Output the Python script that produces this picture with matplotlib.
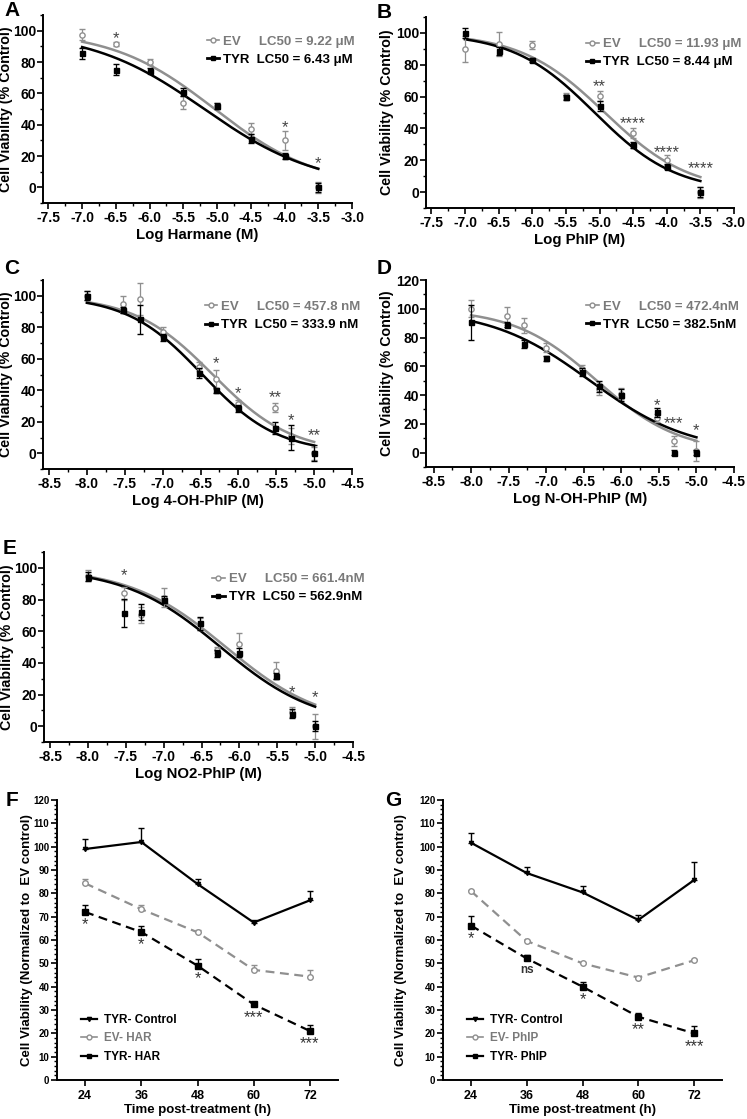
import numpy as np
import matplotlib
matplotlib.use('Agg')
import matplotlib.pyplot as plt
from matplotlib.lines import Line2D
from matplotlib.ticker import MultipleLocator

plt.rcParams['font.family'] = ['Liberation Sans', 'DejaVu Sans']
plt.rcParams['font.weight'] = 'bold'
plt.rcParams['axes.labelweight'] = 'bold'

W, H = 747, 1119
GRAY = '#8f8f8f'

# ---- dose-response data (log M) ----
harm_x = [-7.0, -6.5, -6.0, -5.5, -5.0, -4.5, -4.0, -3.5]
harm_ev = [97.5, 91.5, 80, 54, 52, 37.5, 30, 0]
harm_ev_err = [3.5, 1, 2, 4, 2, 3.5, 6, 3.5]
harm_tyr = [85.5, 75, 74.5, 61, 52, 31, 20, 0]
harm_tyr_err = [3.5, 3.5, 1.5, 2.5, 2, 3, 2, 3]
harm_stars = [(-6.5, 95, '*'), (-4.0, 38, '*'), (-3.5, 15, '*')]

phip_x = [-7.0, -6.5, -6.0, -5.5, -5.0, -4.5, -4.0, -3.5]
phip_ev = [90, 93, 92.5, 60.5, 60.5, 37, 20, 0]
phip_ev_err = [8, 7.5, 2.5, 2, 3, 3, 3, 3.5]
phip_tyr = [100, 88.5, 83, 59.5, 54, 29.5, 16, 0]
phip_tyr_err = [3, 2.5, 1.5, 1.5, 3, 2, 1.5, 3]
phip_stars = [(-5.0, 66, '**'), (-4.5, 43, '****'), (-4.0, 25, '****'), (-3.5, 15, '****')]

nm_x = [-8.0, -7.52, -7.3, -7.0, -6.52, -6.3, -6.0, -5.52, -5.3, -5.0]

oh_ev = [100, 95, 98, 77, 55, 47, 31, 29, 11, 0]
oh_ev_err = [3, 5, 10, 3, 3, 6, 3, 3, 5, 4]
oh_tyr = [100, 91, 85, 73.5, 51, 40, 28.5, 16, 10, 0]
oh_tyr_err = [3, 2, 9, 2, 3, 1.5, 2, 4, 8, 5]
oh_stars = [(-6.3, 57, '*'), (-6.0, 38, '*'), (-5.52, 35, '**'), (-5.3, 21, '*'), (-5.0, 11, '**')]

noh_ev = [100, 95, 88.5, 73, 58, 44, 41, 24, 8, 1]
noh_ev_err = [6, 6, 5, 3, 3, 4, 4, 3, 3.5, 7]
noh_tyr = [90.5, 89, 75.5, 65.5, 56, 46, 40, 28, 0, 0]
noh_tyr_err = [12, 2, 3, 2, 3, 4, 4, 3, 2, 2]
noh_stars = [(-5.52, 33, '*'), (-5.3, 20, '***'), (-5.0, 15, '*')]

no2_ev = [95, 84, 70, 81, 64.5, 48, 52, 35, 9, 0]
no2_ev_err = [3.5, 4, 5, 6, 4, 2, 7, 5.5, 3, 8]
no2_tyr = [94.5, 71.5, 72, 80, 65, 46, 46.5, 31.5, 8, 0]
no2_tyr_err = [3, 9, 5, 2, 4, 2, 3, 2, 3, 3]
no2_stars = [(-7.52, 95, '*'), (-5.3, 21, '*'), (-5.0, 18, '*')]

# fitted curves: (log LC50, hill slope)
fit_harm = [(-5.035, 0.57), (-5.19, 0.515)]
fit_phip = [(-4.923, 0.69), (-5.074, 0.716)]
fit_oh = [(-6.339, 0.83), (-6.476, 0.87)]
fit_noh = [(-6.326, 0.79), (-6.417, 0.652)]
fit_no2 = [(-6.18, 0.68), (-6.25, 0.683)]

# ---- time course data ----
hours = [24, 36, 48, 60, 72]
f_ctrl = [99, 102, 84, 67.5, 77]
f_ctrl_err = [4.5, 5.8, 2, 1.2, 4]
f_ev = [84.3, 73.2, 63.3, 47.2, 44.3]
f_ev_err = [2, 1.8, 1, 2, 2.8]
f_tyr = [72, 63.4, 49, 32.4, 21]
f_tyr_err = [3, 2.4, 3, 1.2, 2.6]
f_stars = ['*', '*', '*', '***', '***']

g_ctrl = [101.7, 88.7, 80.4, 68.6, 85.7]
g_ctrl_err = [4, 2.8, 2.8, 2.1, 7.6]
g_ev = [81, 59.6, 50, 43.9, 51.3]
g_ev_err = [0.5, 0.5, 0.5, 0.5, 0.5]
g_tyr = [66.2, 52.1, 40, 27.1, 20]
g_tyr_err = [3.9, 1.5, 2.1, 1.5, 3.1]
g_stars = ['*', 'ns', '*', '**', '***']

fig = plt.figure(figsize=(W / 100, H / 100), dpi=100)


def px_axes(l, t, r, b):
    ax = fig.add_axes([l / W, 1 - b / H, (r - l) / W, (b - t) / H])
    ax._px = (l, t, r, b)
    return ax


def ylabel_at(ax, xpx):
    l, t, r, b = ax._px
    ax.yaxis.set_label_coords((xpx - l) / (r - l), 0.5)


def letter(ch, xpx, ypx):
    fig.text(xpx / W, 1 - ypx / H, ch, fontsize=15, fontweight='bold',
             ha='left', va='center')


def style(ax, lw=1.4):
    for s in ['top', 'right']:
        ax.spines[s].set_visible(False)
    for s in ['left', 'bottom']:
        ax.spines[s].set_linewidth(lw)
    ax.tick_params(which='major', length=4, width=1.2, direction='out')
    ax.tick_params(which='minor', length=2.5, width=1.0, direction='out')


def hill(x, logec, h):
    return 100.0 / (1 + 10 ** ((x - logec) * h))


def dose_panel(ax, x, ev, ev_err, tyr, tyr_err, fits, stars, xlim, ylim, ytop,
               xlabel, labels, ylab_x, leg_x):
    style(ax)
    xs = np.linspace(min(x), max(x), 200)
    ax.plot(xs, hill(xs, *fits[0]), color=GRAY, lw=1.8, zorder=2)
    ax.plot(xs, hill(xs, *fits[1]), color='black', lw=1.8, zorder=3)
    ax.errorbar(x, ev, yerr=ev_err, fmt='o', ms=3.8, mfc='white', mec=GRAY,
                mew=1, ecolor=GRAY, elinewidth=0.9, capsize=2, zorder=4)
    ax.errorbar(x, tyr, yerr=tyr_err, fmt='s', ms=3.6, mfc='black', mec='black',
                ecolor='black', elinewidth=0.9, capsize=2, zorder=5)
    for sx, sy, s in stars:
        ax.text(sx, sy, s, ha='center', va='center', fontsize=12,
                color='#444444', fontweight='normal')
    ax.set_xlim(*xlim)
    ax.set_ylim(*ylim)
    ax.xaxis.set_major_locator(MultipleLocator(0.5))
    ax.xaxis.set_minor_locator(MultipleLocator(0.25))
    ax.yaxis.set_minor_locator(MultipleLocator(10))
    ax.set_yticks(np.arange(0, ytop + 1, 20))
    ax.xaxis.set_major_formatter(plt.FuncFormatter(lambda v, p: f'{v:.1f}'))
    ax.tick_params(axis='x', labelsize=10, pad=2)
    ax.tick_params(axis='y', labelsize=10, pad=1)
    ax.set_xlabel(xlabel, fontsize=10.8, labelpad=2)
    ax.set_ylabel('Cell Viability (% Control)', fontsize=10.3)
    ylabel_at(ax, ylab_x)
    h1 = Line2D([], [], color=GRAY, lw=1.2, marker='o', ms=3.5, mfc='white', mec=GRAY)
    h2 = Line2D([], [], color='black', lw=2, marker='s', ms=3.5)
    leg = ax.legend([h1, h2], labels, loc='upper left', bbox_to_anchor=(leg_x, 0.89),
                    frameon=False, fontsize=9.5, handlelength=0.95,
                    handletextpad=0.3, labelspacing=0.45, borderaxespad=0,
                    borderpad=0)
    leg.get_texts()[0].set_color('#7a7a7a')


axA = px_axes(43, 15, 352, 203)
dose_panel(axA, harm_x, harm_ev, harm_ev_err, harm_tyr, harm_tyr_err, fit_harm,
           harm_stars, (-7.58, -3.0), (-10, 110), 100, 'Log Harmane (M)',
           ['EV     LC50 = 9.22 \u03bcM', 'TYR  LC50 = 6.43 \u03bcM'], 13.5, 0.53)

axB = px_axes(426, 17, 734, 208)
dose_panel(axB, phip_x, phip_ev, phip_ev_err, phip_tyr, phip_tyr_err, fit_phip,
           phip_stars, (-7.58, -3.0), (-10, 110), 100, 'Log PhIP (M)',
           ['EV     LC50 = 11.93 \u03bcM', 'TYR  LC50 = 8.44 \u03bcM'], 394, 0.52)

axC = px_axes(43, 280, 352, 469)
dose_panel(axC, nm_x, oh_ev, oh_ev_err, oh_tyr, oh_tyr_err, fit_oh,
           oh_stars, (-8.58, -4.5), (-10, 110), 100, 'Log 4-OH-PhIP (M)',
           ['EV     LC50 = 457.8 nM', 'TYR  LC50 = 333.9 nM'], 13.5, 0.524)

axD = px_axes(426, 280, 734, 467)
dose_panel(axD, nm_x, noh_ev, noh_ev_err, noh_tyr, noh_tyr_err, fit_noh,
           noh_stars, (-8.6, -4.5), (-10, 120), 120, 'Log N-OH-PhIP (M)',
           ['EV     LC50 = 472.4nM', 'TYR  LC50 = 382.5nM'], 394, 0.52)

axE = px_axes(44, 552, 353, 742)
dose_panel(axE, nm_x, no2_ev, no2_ev_err, no2_tyr, no2_tyr_err, fit_no2,
           no2_stars, (-8.58, -4.5), (-10, 110), 100, 'Log NO2-PhIP (M)',
           ['EV     LC50 = 661.4nM', 'TYR  LC50 = 562.9nM'], 14, 0.544)


def time_panel(ax, ctrl, ctrl_err, ev, ev_err, tyr, tyr_err, stars, labels, ylab_x):
    style(ax)
    ax.errorbar(hours, ctrl, yerr=[[0] * 5, ctrl_err], fmt='-', marker='v', ms=3,
                color='black', lw=1.6, elinewidth=1, capsize=2.5, zorder=3)
    ax.errorbar(hours, ev, yerr=[[0] * 5, ev_err], fmt='--', marker='o', ms=4,
                mfc='white', mec=GRAY, color=GRAY, lw=1.6, elinewidth=1,
                capsize=2.5, dashes=(4, 2.5), zorder=2)
    ax.errorbar(hours, tyr, yerr=[[0] * 5, tyr_err], fmt='--', marker='s', ms=4,
                color='black', lw=1.6, elinewidth=1, capsize=2.5,
                dashes=(4, 2.5), zorder=4)
    for hx, hy, s in zip(hours, tyr, stars):
        if s == 'ns':
            ax.text(hx, hy - 5, s, ha='center', va='center', fontsize=8.5,
                    color='#333333', fontweight='bold')
        else:
            ax.text(hx, hy - 5.5, s, ha='center', va='center', fontsize=12,
                    color='#333333', fontweight='normal')
    ax.set_xlim(18, 78)
    ax.set_ylim(0, 120)
    ax.set_xticks(hours)
    ax.yaxis.set_major_locator(MultipleLocator(10))
    ax.yaxis.set_minor_locator(MultipleLocator(2))
    ax.tick_params(axis='y', labelsize=7, pad=1.5)
    ax.tick_params(axis='x', labelsize=9)
    ax.set_xlabel('Time post-treatment (h)', fontsize=9.5, labelpad=1)
    ax.set_ylabel('Cell Viability (Normalized to  EV control)', fontsize=9.5)
    ylabel_at(ax, ylab_x)
    h1 = Line2D([], [], color='black', lw=1.6, marker='v', ms=3)
    h2 = Line2D([], [], color=GRAY, lw=1.2, marker='o', ms=3.5, mfc='white', mec=GRAY)
    h3 = Line2D([], [], color='black', lw=1.6, marker='s', ms=3.5)
    leg = ax.legend([h1, h2, h3], labels, loc='lower left', bbox_to_anchor=(0.07, 0.045),
                    frameon=False, fontsize=8.5, handlelength=1.3,
                    handletextpad=0.6, labelspacing=0.55, borderaxespad=0)
    leg.get_texts()[1].set_color('#7a7a7a')


axF = px_axes(57, 800, 338, 1080)
time_panel(axF, f_ctrl, f_ctrl_err, f_ev, f_ev_err, f_tyr, f_tyr_err, f_stars,
           ['TYR- Control', 'EV- HAR', 'TYR- HAR'], 33)

axG = px_axes(443, 800, 722, 1080)
time_panel(axG, g_ctrl, g_ctrl_err, g_ev, g_ev_err, g_tyr, g_tyr_err, g_stars,
           ['TYR- Control', 'EV- PhIP', 'TYR- PhIP'], 407)

letter('A', 4, 11)
letter('B', 377, 12)
letter('C', 4, 268)
letter('D', 377, 268)
letter('E', 3, 548)
letter('F', 6, 800)
letter('G', 385, 800)

fig.savefig('out.png', dpi=100)
